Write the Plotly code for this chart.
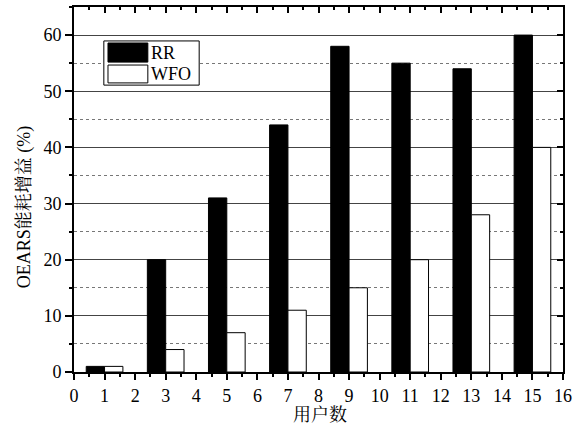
import plotly.graph_objects as go

users = [1, 3, 5, 7, 9, 11, 13, 15]
rr = [1, 20, 31, 44, 58, 55, 54, 60]
wfo = [1, 4, 7, 11, 15, 20, 28, 40]
series_names = ["RR", "WFO"]
x_tick_vals = list(range(0, 17))
y_tick_vals = [0, 10, 20, 30, 40, 50, 60]
x_title = "用户数"
y_title = "OEARS能耗增益 (%)"

FONT = "Liberation Serif, Times New Roman, Noto Serif CJK SC, Noto Sans CJK SC, serif"

fig = go.Figure()
fig.add_trace(go.Bar(x=users, y=rr, name=series_names[0], width=0.6, offset=-0.6,
                     marker=dict(color="black", line=dict(color="black", width=1)),
                     showlegend=False))
fig.add_trace(go.Bar(x=users, y=wfo, name=series_names[1], width=0.6, offset=0,
                     marker=dict(color="white", line=dict(color="black", width=1)),
                     showlegend=False))
# empty trace to activate mirror axes (top / right)
fig.add_trace(go.Scatter(x=[], y=[], xaxis="x2", yaxis="y2", showlegend=False))

fig.update_layout(
    width=583, height=432,
    margin=dict(l=74, r=20, t=7, b=60, autoexpand=False),
    paper_bgcolor="white", plot_bgcolor="white",
    font=dict(family=FONT, size=18, color="black"),
    barmode="overlay",
    xaxis=dict(range=[0, 16], tickvals=x_tick_vals, ticks="outside", ticklen=6, tickwidth=1.5,
               tickcolor="black", showline=True, linecolor="black", linewidth=2,
               showgrid=False, zeroline=False, automargin=False,
               minor=dict(dtick=0.5, ticks="outside", ticklen=3, tickwidth=1.5, tickcolor="black", showgrid=False),
               tickfont=dict(size=18, family=FONT)),
    yaxis=dict(range=[0, 65], tickvals=y_tick_vals, ticks="outside", ticklen=7, tickwidth=1.5,
               tickcolor="black", showline=True, linecolor="black", linewidth=2,
               showgrid=True, gridcolor="#444444", gridwidth=1, zeroline=False, automargin=False,
               minor=dict(dtick=5, ticks="outside", ticklen=3, tickwidth=1.5, tickcolor="black",
                          showgrid=True, gridcolor="#777777", griddash="dot", gridwidth=1),
               tickfont=dict(size=18, family=FONT)),
    xaxis2=dict(range=[0, 16], overlaying="x", side="top", tickvals=x_tick_vals, ticks="inside",
                ticklen=6, tickwidth=1.5, tickcolor="black", showticklabels=False, automargin=False,
                showline=True, linecolor="black", linewidth=2, showgrid=False, zeroline=False,
                minor=dict(dtick=0.5, ticks="inside", ticklen=3, tickwidth=1.5, tickcolor="black", showgrid=False)),
    yaxis2=dict(range=[0, 65], overlaying="y", side="right", tickvals=y_tick_vals, ticks="inside",
                ticklen=6, tickwidth=1.5, tickcolor="black", showticklabels=False, automargin=False,
                showline=True, linecolor="black", linewidth=2, showgrid=False, zeroline=False,
                minor=dict(dtick=5, ticks="inside", ticklen=3, tickwidth=1.5, tickcolor="black", showgrid=False)),
)

# axis titles
fig.add_annotation(xref="paper", yref="paper", x=0.503, y=-0.118, text=x_title, showarrow=False,
                   xanchor="center", yanchor="middle", font=dict(size=18, family=FONT))
fig.add_annotation(xref="paper", yref="paper", x=-0.102, y=0.452, text=y_title, showarrow=False,
                   textangle=-90, xanchor="center", yanchor="middle", font=dict(size=18, family=FONT))

# manual legend (wide swatches like the original)
fig.add_shape(type="rect", xref="paper", yref="paper", x0=0.061, x1=0.256, y0=0.786, y1=0.907,
              line=dict(color="black", width=1), fillcolor="white", layer="above")
fig.add_shape(type="rect", xref="paper", yref="paper", x0=0.0695, x1=0.151, y0=0.849, y1=0.9014,
              line=dict(color="black", width=1), fillcolor="black", layer="above")
fig.add_shape(type="rect", xref="paper", yref="paper", x0=0.0695, x1=0.151, y0=0.792, y1=0.841,
              line=dict(color="black", width=1), fillcolor="white", layer="above")
fig.add_annotation(xref="paper", yref="paper", x=0.153, y=0.875, text=series_names[0], showarrow=False,
                   xanchor="left", yanchor="middle", font=dict(size=18, family=FONT))
fig.add_annotation(xref="paper", yref="paper", x=0.153, y=0.817, text=series_names[1], showarrow=False,
                   xanchor="left", yanchor="middle", font=dict(size=18, family=FONT))

fig.write_html("out.html", config={"displayModeBar": False},
               post_script="document.body.style.margin='0px';")
